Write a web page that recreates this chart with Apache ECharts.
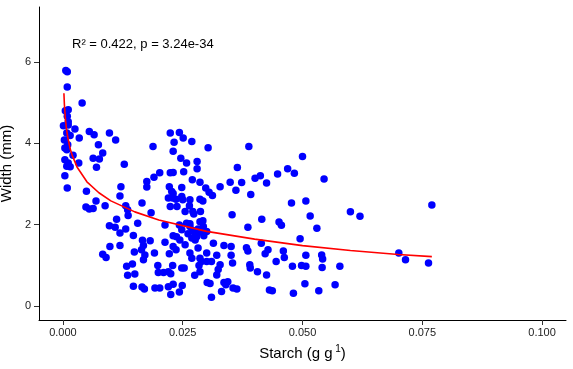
<!DOCTYPE html>
<html>
<head>
<meta charset="utf-8">
<script src="https://cdn.jsdelivr.net/npm/echarts@6/dist/echarts.min.js"></script>
<style>html,body{margin:0;padding:0;background:#fff;}#c{width:573px;height:369px;}</style>
</head>
<body>
<div id="c"></div>
<script>
// Observations: [starch (g g-1), width (mm)]
const observations = [
  [0.0006,5.79],[0.0009,5.76],[0.0009,5.38],[0.0011,4.82],[0.0005,4.80],[0.0009,4.66],[0.0011,4.53],
  [0.0001,4.43],[0.0011,4.45],[0.0025,4.35],[0.0008,4.25],[0.0015,4.19],[0.0034,4.13],[0.0040,4.99],
  [0.0004,3.88],[0.0008,3.84],[0.0021,3.70],[0.0004,3.59],[0.0011,3.51],[0.0008,3.43],[0.0015,3.42],
  [0.0033,3.51],[0.0009,2.90],[0.0003,4.08],[0.0010,3.96],[0.0004,3.20],
  [0.0055,4.29],[0.0065,4.21],[0.0097,4.25],[0.0110,4.08],[0.0074,3.96],[0.0083,3.76],[0.0063,3.63],
  [0.0076,3.61],[0.0070,3.41],[0.0128,3.48],[0.0049,2.82],[0.0121,2.93],[0.0119,2.70],[0.0069,2.58],
  [0.0048,2.43],[0.0063,2.39],[0.0055,2.38],[0.0088,2.46],[0.0131,2.46],[0.0135,2.36],[0.0136,2.22],
  [0.0112,2.13],[0.0097,1.97],[0.0109,1.93],[0.0131,1.89],[0.0119,1.79],[0.0147,1.73],[0.0156,2.03],
  [0.0098,1.46],[0.0119,1.48],[0.0083,1.27],[0.0090,1.19],[0.0133,0.97],[0.0135,0.75],[0.0145,1.03],
  [0.0150,0.78],[0.0147,0.48],[0.0149,1.32],
  [0.0165,2.53],[0.0175,3.06],[0.0175,2.92],[0.0190,3.16],[0.0184,2.29],[0.0188,3.92],[0.0202,3.27],
  [0.0224,4.25],[0.0243,4.26],[0.0232,4.02],[0.0230,3.80],[0.0224,3.27],[0.0230,3.28],[0.0222,2.93],
  [0.0227,2.81],[0.0230,2.76],[0.0220,2.65],[0.0229,2.65],[0.0236,2.62],[0.0238,2.44],[0.0224,2.44],
  [0.0213,1.99],[0.0243,1.99],[0.0166,1.61],[0.0182,1.60],[0.0168,1.48],[0.0164,1.38],[0.0171,1.25],
  [0.0168,1.13],[0.0191,1.30],[0.0213,1.56],[0.0230,1.72],[0.0237,1.70],[0.0244,1.62],[0.0222,1.28],
  [0.0230,1.46],[0.0236,1.38],[0.0198,0.99],[0.0199,0.82],[0.0210,0.82],[0.0220,0.84],[0.0225,0.79],
  [0.0229,0.99],[0.0165,0.46],[0.0170,0.41],[0.0192,0.44],[0.0202,0.44],[0.0220,0.47],[0.0230,0.53],
  [0.0225,0.28],[0.0243,0.34],
  [0.0251,4.13],[0.0269,4.04],[0.0246,3.63],[0.0258,3.51],[0.0280,3.55],[0.0280,3.37],[0.0252,3.30],
  [0.0303,3.89],[0.0248,2.91],[0.0248,2.69],[0.0265,2.61],[0.0270,3.10],[0.0286,3.04],[0.0298,2.90],
  [0.0305,2.79],[0.0312,2.71],[0.0286,2.62],[0.0292,2.58],[0.0264,2.46],[0.0271,2.32],[0.0255,2.32],
  [0.0287,2.32],[0.0273,2.26],[0.0286,2.07],[0.0292,2.09],[0.0265,2.02],[0.0250,2.61],[0.0248,1.87],
  [0.0258,2.03],[0.0265,1.95],[0.0276,1.79],[0.0279,1.70],[0.0286,1.83],[0.0269,1.67],[0.0293,1.95],
  [0.0300,1.83],[0.0282,1.89],[0.0271,1.85],[0.0294,1.72],[0.0261,1.77],[0.0255,1.50],[0.0265,1.30],
  [0.0276,1.62],[0.0282,1.42],[0.0269,1.17],[0.0286,1.17],[0.0300,1.30],[0.0300,1.09],[0.0289,1.09],
  [0.0310,1.09],[0.0314,1.54],[0.0321,1.24],[0.0328,1.01],[0.0324,0.89],[0.0248,0.93],[0.0253,0.93],
  [0.0275,0.75],[0.0286,0.84],[0.0284,0.99],[0.0249,0.50],[0.0301,0.57],[0.0310,0.21],[0.0321,0.76],
  [0.0307,0.55],[0.0328,2.93],
  [0.0349,3.04],[0.0373,3.03],[0.0361,2.84],[0.0364,3.40],[0.0388,3.92],[0.0392,2.74],[0.0401,3.14],
  [0.0412,3.20],[0.0353,2.24],[0.0386,1.93],[0.0336,1.48],[0.0351,1.46],[0.0351,1.24],[0.0354,1.05],
  [0.0383,1.43],[0.0386,1.35],[0.0390,1.01],[0.0391,0.93],[0.0336,0.57],[0.0340,0.52],[0.0331,0.35],
  [0.0344,0.59],[0.0355,0.44],[0.0363,0.41],[0.0406,0.84],
  [0.0425,3.02],[0.0448,3.24],[0.0469,3.37],[0.0483,3.26],[0.0500,3.67],[0.0415,2.13],[0.0451,2.06],
  [0.0456,1.98],[0.0477,2.53],[0.0507,2.58],[0.0516,2.21],[0.0495,1.65],[0.0414,1.54],[0.0428,1.38],
  [0.0422,1.28],[0.0460,1.35],[0.0462,1.19],[0.0445,1.09],[0.0479,0.97],[0.0498,0.99],[0.0507,0.97],
  [0.0507,1.24],[0.0425,0.76],[0.0431,0.39],[0.0437,0.37],[0.0505,0.54],[0.0481,0.31],
  [0.0530,1.91],[0.0545,3.12],[0.0600,2.31],[0.0620,2.20],[0.0540,1.25],[0.0542,1.15],[0.0541,0.94],
  [0.0578,0.97],[0.0568,0.52],[0.0534,0.37],[0.0701,1.30],[0.0715,1.13],[0.0763,1.05],[0.0770,2.48]
];

// Fitted curve
const fitStarch = [0.0002,0.0003,0.0005,0.0007,0.001,0.0015,0.002,0.003,0.005,0.0075,0.01,0.015,0.02,0.03,0.04,0.05,0.06,0.07,0.077];
const fitWidth  = [5.23,  4.95,  4.62,  4.38,  4.15, 3.86,  3.68, 3.40, 3.05, 2.78,  2.58,2.31, 2.11,1.83,1.64,1.48,1.36,1.26,1.21];

const xTicks = [0, 0.025, 0.05, 0.075, 0.1];
const yTicks = [0, 2, 4, 6];
const annotation = 'R\u00B2 = 0.422, p = 3.24e-34';

const font = "'Liberation Sans', Arial, sans-serif";
const chart = echarts.init(document.getElementById('c'), null, {renderer: 'canvas'});
chart.setOption({
  animation: false,
  backgroundColor: '#ffffff',
  grid: {left: 39, right: 7, top: 7, bottom: 49, containLabel: false, outerBoundsMode: 'none'},
  xAxis: {
    type: 'value', min: -0.005, max: 0.105,
    splitLine: {show: false},
    axisLine: {onZero: false, lineStyle: {color: '#000', width: 1}},
    axisTick: {show: true, length: 5, lineStyle: {color: '#333'}, customValues: xTicks},
    axisLabel: {customValues: xTicks, color: '#222', fontSize: 11, fontFamily: font, margin: 7,
      formatter: v => v.toFixed(3)},
    name: 'Starch (g g{sup| 1})', nameLocation: 'middle', nameGap: 24,
    nameTextStyle: {color: '#000', fontSize: 15, fontFamily: font,
      rich: {sup: {fontSize: 10, fontFamily: font, color: '#000', padding: [0, 0, 9, 0]}}}
  },
  yAxis: {
    type: 'value', min: -0.35, max: 7.35,
    splitLine: {show: false},
    axisLine: {onZero: false, lineStyle: {color: '#000', width: 1}},
    axisTick: {show: true, length: 5, lineStyle: {color: '#333'}, customValues: yTicks},
    axisLabel: {customValues: yTicks, color: '#222', fontSize: 11, fontFamily: font, margin: 8},
    name: 'Width (mm)', nameLocation: 'middle', nameGap: 19, nameRotate: 90,
    nameTextStyle: {color: '#000', fontSize: 15, fontFamily: font}
  },
  series: [
    {
      type: 'scatter', data: observations, symbol: 'circle', symbolSize: 7.5,
      itemStyle: {color: '#0000FF', opacity: 1}, z: 2
    },
    {
      type: 'line', data: fitStarch.map((x, i) => [x, fitWidth[i]]),
      showSymbol: false, smooth: false,
      lineStyle: {color: '#FF0000', width: 1.6}, z: 3
    }
  ],
  graphic: [{
    type: 'text', left: 72, top: 38,
    style: {text: annotation, fill: '#000', fontSize: 13, fontFamily: font}
  }]
});
</script>
</body>
</html>
